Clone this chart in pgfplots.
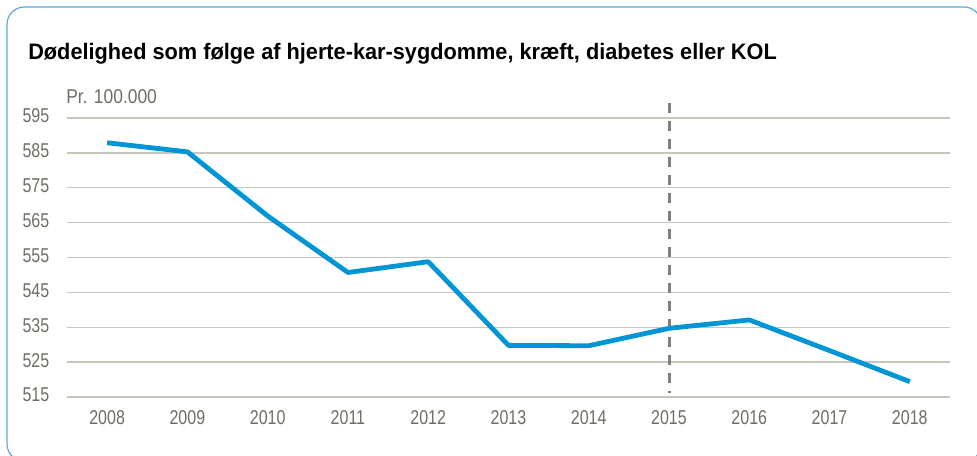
\documentclass[border=0pt]{standalone}
\usepackage{pgfplots}
\pgfplotsset{compat=1.18}
\usepackage{fontspec}
\setmainfont{Liberation Sans}
\newfontfamily\tickfont[FakeStretch=0.8]{Liberation Sans}
\newfontfamily\unitfont[FakeStretch=0.87]{Liberation Sans}
\newfontfamily\titlefont[FakeStretch=0.97]{Liberation Sans}
\definecolor{lineblue}{RGB}{0,150,214}
\definecolor{gridc}{RGB}{200,198,188}
\definecolor{tickc}{RGB}{110,110,100}
\definecolor{borderc}{RGB}{90,170,220}
\definecolor{dashc}{RGB}{128,128,128}
\begin{document}
\begin{tikzpicture}
\useasboundingbox (0,0) rectangle (732.75pt,342pt);
\begin{scope}
\clip (0,0) rectangle (732.75pt,342pt);
\draw[borderc, line width=0.9pt, rounded corners=13pt] (5.25pt,-4pt) rectangle (736pt,336.75pt);
\end{scope}
\node[anchor=base west, inner sep=0pt, font=\titlefont\fontsize{16.8}{20}\selectfont\bfseries] at (21pt,297pt) {Dødelighed som følge af hjerte-kar-sygdomme, kræft, diabetes eller KOL};
\node[anchor=base west, inner sep=0pt, text=tickc, font=\unitfont\fontsize{15}{18}\selectfont] at (49.5pt,264pt) {Pr. 100.000};
\begin{axis}[
  at={(50.25pt,44.25pt)}, anchor=south west,
  scale only axis, width=662.25pt, height=209.25pt,
  xmin=2007.5, xmax=2018.5, ymin=515, ymax=595,
  xtick={2008,...,2018}, ytick={515,525,...,595},
  xticklabel style={/pgf/number format/1000 sep={}, yshift=-6.5pt},
  yticklabel style={xshift=-9.8pt, yshift=1.5pt},
  /pgf/number format/assume math mode=true,
  tick label style={text=tickc, font=\tickfont\fontsize{15}{18}\selectfont},
  axis line style={draw=none},
  major tick length=0pt,
  tick style={draw=none},
  ymajorgrids, grid style={gridc, line width=1.1pt},
  clip=false,
]
\addplot[dashc, line width=2.2pt, dash pattern=on 7.5pt off 6pt] coordinates {(2015,599.3) (2015,516.1)};
\addplot[lineblue, line width=3.6pt, line join=round] coordinates {
(2008,587.9) (2009,585.3) (2010,566.9) (2011,550.7) (2012,553.8) (2013,529.8) (2014,529.7) (2015,534.7) (2016,537.1) (2017,528.3) (2018,519.4)};
\end{axis}
\end{tikzpicture}
\end{document}
